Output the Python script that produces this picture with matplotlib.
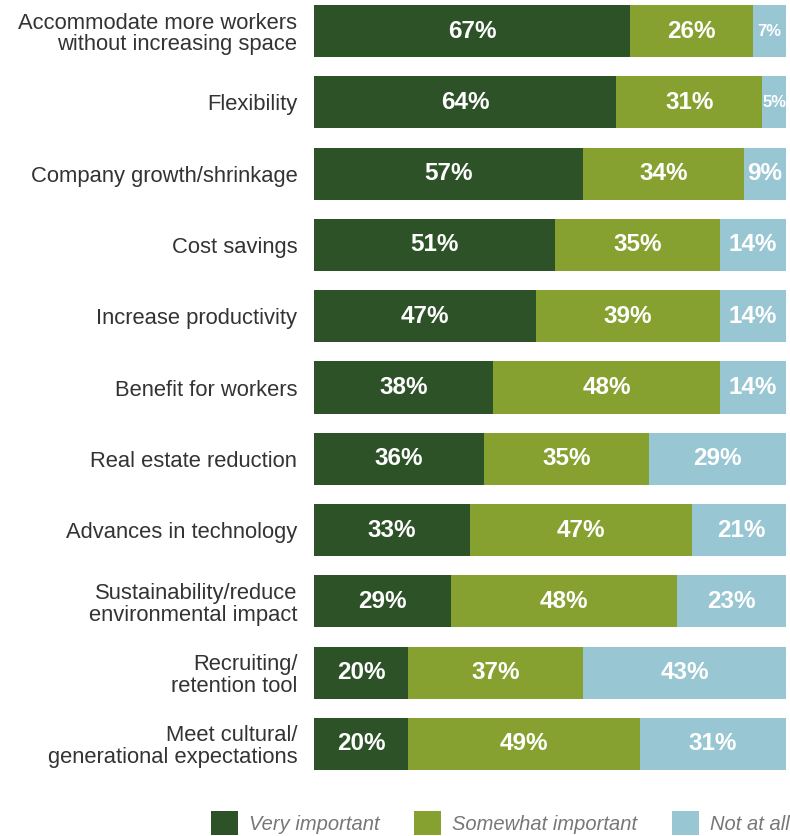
import matplotlib.pyplot as plt
import numpy as np
from matplotlib.patches import Patch

categories = [
    "Accommodate more workers\nwithout increasing space",
    "Flexibility",
    "Company growth/shrinkage",
    "Cost savings",
    "Increase productivity",
    "Benefit for workers",
    "Real estate reduction",
    "Advances in technology",
    "Sustainability/reduce\nenvironmental impact",
    "Recruiting/\nretention tool",
    "Meet cultural/\ngenerational expectations",
]
very = [67, 64, 57, 51, 47, 38, 36, 33, 29, 20, 20]
somewhat = [26, 31, 34, 35, 39, 48, 35, 47, 48, 37, 49]
not_at_all = [7, 5, 9, 14, 14, 14, 29, 21, 23, 43, 31]

series = ["Very important", "Somewhat important", "Not at all"]
colors = ["#2d5228", "#87a130", "#98c6d2"]

plt.rcParams["font.family"] = ["Liberation Sans", "DejaVu Sans"]

fig = plt.figure(figsize=(7.9, 8.36), dpi=100)
ax = fig.add_axes([314 / 790, (836 - 770) / 836, 472 / 790, 765 / 836])

y = np.arange(len(categories))
h = 0.73
left = np.zeros(len(categories))
for vals, col in zip([very, somewhat, not_at_all], colors):
    vals = np.array(vals, dtype=float)
    ax.barh(y, vals, left=left, height=h, color=col, edgecolor="none")
    for yi, l, v in zip(y, left, vals):
        fs = 17.5 if v >= 9 else 12
        ax.text(l + v / 2, yi, f"{int(v)}%", ha="center", va="center",
                color="white", fontsize=fs, fontweight="bold")
    left += vals

ax.set_xlim(0, 100)
ax.set_ylim(len(categories) - 1 + h / 2, -h / 2)
ax.set_yticks(y)
ax.set_yticklabels(categories, fontsize=15.8, color="#333333", linespacing=1.05)
ax.tick_params(axis="y", length=0, pad=12)
ax.set_xticks([])
for s in ax.spines.values():
    s.set_visible(False)

handles = [Patch(facecolor=c, edgecolor="none") for c in colors]
leg = fig.legend(handles, series, loc="lower right", bbox_to_anchor=(1.01, -0.009),
                 ncol=3, frameon=False, handlelength=1.35, handleheight=1.5,
                 handletextpad=0.55, columnspacing=1.7, borderaxespad=0.0,
                 prop={"style": "italic", "size": 14.5})
for t in leg.get_texts():
    t.set_color("#777777")

fig.savefig("out.png", dpi=100)
